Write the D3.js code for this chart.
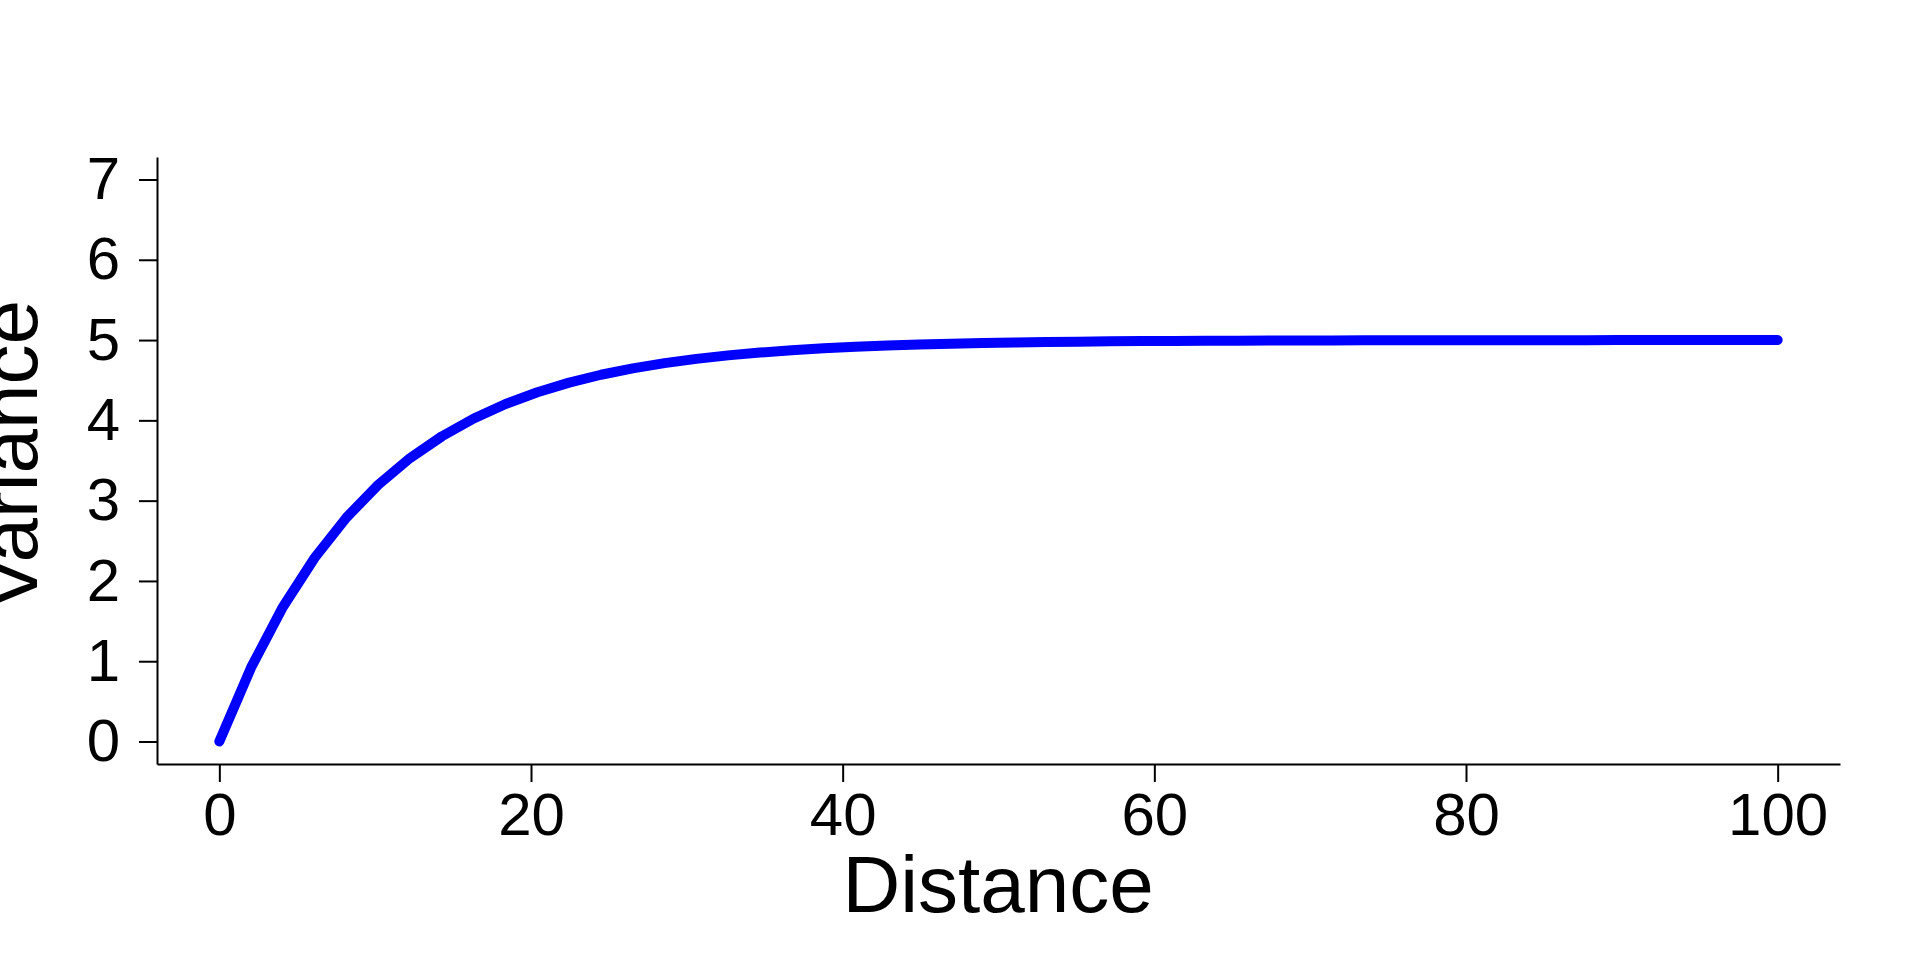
<!DOCTYPE html>
<html>
<head>
<meta charset="utf-8">
<script src="https://cdn.jsdelivr.net/npm/d3@7"></script>
<style>
  html, body { margin: 0; padding: 0; background: #fff; }
  svg { display: block; }
  text { font-family: "Liberation Sans", Arial, sans-serif; fill: #000; }
</style>
</head>
<body>
<svg id="chart" width="1920" height="960"></svg>
<script>
// Data
const distance = [0, 2.04, 4.08, 6.12, 8.16, 10.2, 12.24, 14.29, 16.33, 18.37,
  20.41, 22.45, 24.49, 26.53, 28.57, 30.61, 32.65, 34.69, 36.73, 38.78,
  40.82, 42.86, 44.9, 46.94, 48.98, 51.02, 53.06, 55.1, 57.14, 59.18,
  61.22, 63.27, 65.31, 67.35, 69.39, 71.43, 73.47, 75.51, 77.55, 79.59,
  81.63, 83.67, 85.71, 87.76, 89.8, 91.84, 93.88, 95.92, 97.96, 100];
const variance = [0, 0.923, 1.676, 2.289, 2.79, 3.198, 3.531, 3.802, 4.023, 4.203,
  4.35, 4.47, 4.568, 4.648, 4.713, 4.766, 4.809, 4.844, 4.873, 4.897,
  4.916, 4.931, 4.944, 4.954, 4.963, 4.97, 4.975, 4.98, 4.984, 4.987,
  4.989, 4.991, 4.993, 4.994, 4.995, 4.996, 4.997, 4.997, 4.998, 4.998,
  4.999, 4.999, 4.999, 4.999, 5.0, 5.0, 5.0, 5.0, 5.0, 5.0];
const xTicks = [0, 20, 40, 60, 80, 100];
const yTicks = [0, 1, 2, 3, 4, 5, 6, 7];
const xTitle = "Distance";
const yTitle = "Variance";

const svg = d3.select("#chart");
const x = d3.scaleLinear().domain([-4, 104]).range([157, 1840]);
const y = d3.scaleLinear().domain([-0.28, 7.28]).range([764, 157]);

// Y axis
const gy = svg.append("g")
  .attr("transform", `translate(${x(-4)},0)`)
  .call(d3.axisLeft(y).tickValues(yTicks).tickFormat(d3.format("d"))
    .tickSize(18).tickSizeOuter(0).tickPadding(19));
gy.selectAll("path, line").attr("stroke", "#000").attr("stroke-width", 2);
gy.selectAll("text").style("font-size", "60px").attr("font-family", null);

// X axis
const gx = svg.append("g")
  .attr("transform", `translate(0,${y(-0.28)})`)
  .call(d3.axisBottom(x).tickValues(xTicks).tickFormat(d3.format("d"))
    .tickSize(18).tickSizeOuter(0).tickPadding(10));
gx.selectAll("path, line").attr("stroke", "#000").attr("stroke-width", 2);
gx.selectAll("text").style("font-size", "60px").attr("font-family", null);

// Line
const line = d3.line().x((d, i) => x(distance[i])).y(d => y(d));
svg.append("path")
  .datum(variance)
  .attr("d", line)
  .attr("fill", "none")
  .attr("stroke", "#0000ff")
  .attr("stroke-width", 10)
  .attr("stroke-linecap", "round")
  .attr("stroke-linejoin", "round");

// Titles
svg.append("text")
  .attr("x", 998).attr("y", 912)
  .attr("text-anchor", "middle")
  .style("font-size", "80px")
  .text(xTitle);

svg.append("text")
  .attr("transform", "translate(37,455) rotate(-90)")
  .attr("text-anchor", "middle")
  .style("font-size", "80px")
  .text(yTitle);
</script>
</body>
</html>
